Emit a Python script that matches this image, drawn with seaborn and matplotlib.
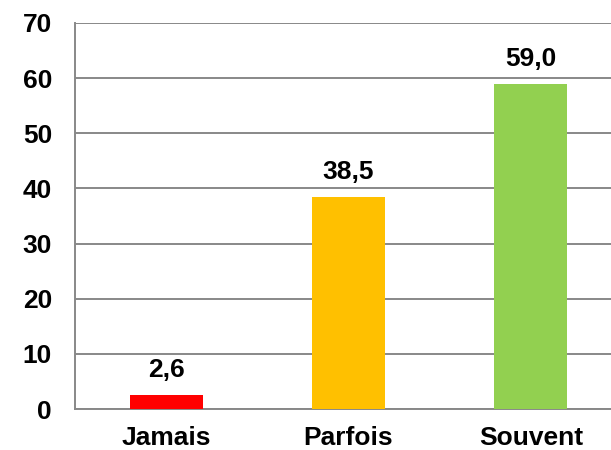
import matplotlib
matplotlib.use("Agg")
import matplotlib.pyplot as plt
import seaborn as sns
import pandas as pd

# data
categories = ["Jamais", "Parfois", "Souvent"]
values = [2.6, 38.5, 59.0]
bar_colors = ["#FF0000", "#FFC000", "#92D050"]
y_ticks = [0, 10, 20, 30, 40, 50, 60, 70]

sns.set_style("white")
plt.rcParams["font.family"] = ["Liberation Sans", "DejaVu Sans"]
plt.rcParams["font.weight"] = "bold"

df = pd.DataFrame({"cat": categories, "val": values})

fig = plt.figure(figsize=(6.11, 4.5), dpi=100)
ax = fig.add_axes([0.1228, 0.0911, 0.8772, 0.8578])

sns.barplot(data=df, x="cat", y="val", hue="cat", palette=bar_colors,
            width=0.4, legend=False, ax=ax, saturation=1, zorder=3,
            linewidth=0)

# grid lines
ax.set_ylim(0, 70)
ax.set_yticks(y_ticks)
ax.yaxis.grid(True, color="#888888", linewidth=1.4, zorder=0)
ax.set_axisbelow(True)
ax.set_xlim(-0.5, 2.44)

for s in ["top", "right"]:
    ax.spines[s].set_visible(False)
for s in ["left", "bottom"]:
    ax.spines[s].set_color("#888888")
    ax.spines[s].set_linewidth(1.4)

ax.tick_params(axis="both", length=0, labelsize=19, colors="black")
ax.tick_params(axis="y", pad=16.5)
ax.tick_params(axis="x", pad=12)
for lab in ax.get_xticklabels() + ax.get_yticklabels():
    lab.set_fontweight("bold")
ax.set_xlabel("")
ax.set_ylabel("")

# value labels
for i, v in enumerate(values):
    ax.annotate(f"{v:.1f}".replace(".", ","), xy=(i, v), xytext=(0, 9),
                textcoords="offset points", ha="center", va="bottom",
                fontsize=19, fontweight="bold", color="black")

fig.savefig("out.png", dpi=100)
